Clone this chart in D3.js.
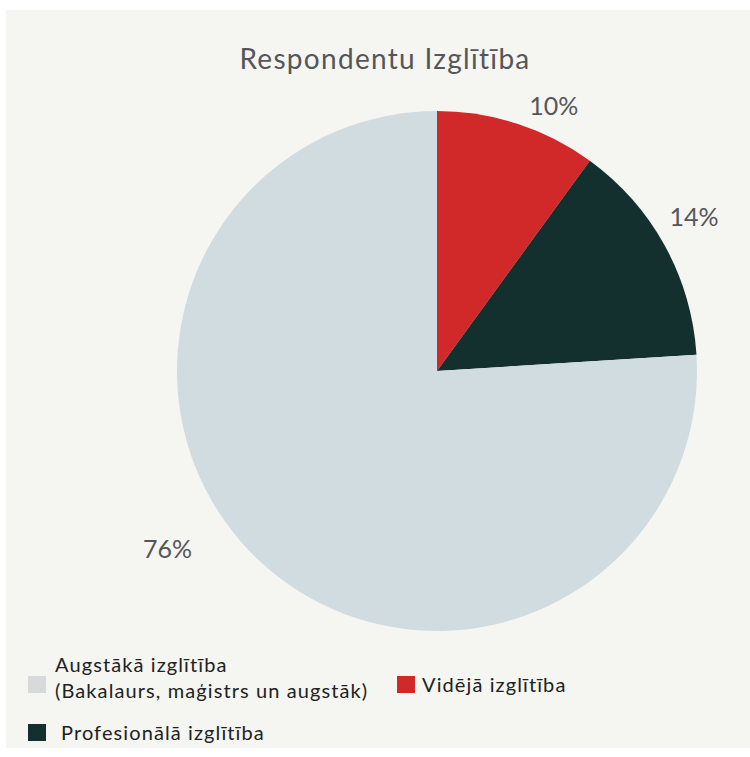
<!DOCTYPE html>
<html>
<head>
<meta charset="utf-8">
<script src="https://cdn.jsdelivr.net/npm/d3@7"></script>
<style>
  html, body { margin: 0; padding: 0; background: #ffffff; }
  svg { display: block; }
  text { font-family: "Lato", "Open Sans", sans-serif; }
</style>
</head>
<body>
<svg id="chart" width="750" height="757"></svg>
<script>
// Education level of respondents, shares in percent
const categories = ["Vidējā izglītība", "Profesionālā izglītība", "Augstākā izglītība"];
const values = [10, 14, 76];
const sliceColors = ["#d1282a", "#132f2e", "#d1dce1"];
const legendColors = ["#d1282a", "#132f2e", "#d8d9da"];
const legendLabels = [
  ["Augstākā izglītība", "(Bakalaurs, maģistrs un augstāk)"],
  ["Vidējā izglītība"],
  ["Profesionālā izglītība"]
];
const legendIndex = [2, 0, 1];
const title = "Respondentu Izglītība";

const svg = d3.select("#chart");

// panel background
svg.append("rect")
  .attr("x", 6).attr("y", 10)
  .attr("width", 744).attr("height", 738)
  .attr("fill", "#f5f5f1");

svg.append("text")
  .attr("x", 385).attr("y", 69)
  .attr("text-anchor", "middle")
  .attr("font-size", 28)
  .attr("letter-spacing", 1.3)
  .attr("fill", "#55565a")
  .text(title);

const cx = 437, cy = 371, r = 260;
const g = svg.append("g").attr("transform", `translate(${cx},${cy})`);

const pie = d3.pie().sort(null).value(d => d)(values);
const arc = d3.arc().innerRadius(0).outerRadius(r);

g.selectAll("path.slice")
  .data(pie)
  .join("path")
  .attr("class", "slice")
  .attr("d", arc)
  .attr("fill", (d, i) => sliceColors[i]);

// percentage labels outside the pie, nudged from the slice centroid
const labelArc = d3.arc().innerRadius(r + 40).outerRadius(r + 40);
const labelOffsets = [[24, 19], [-6, -10], [-64, -42]];
g.selectAll("text.pct")
  .data(pie)
  .join("text")
  .attr("class", "pct")
  .attr("transform", (d, i) => {
    const [x, y] = labelArc.centroid(d);
    return `translate(${x + labelOffsets[i][0]},${y + labelOffsets[i][1]})`;
  })
  .attr("text-anchor", "middle")
  .attr("dominant-baseline", "central")
  .attr("font-size", 25)
  .attr("fill", "#55565a")
  .text(d => d.data + "%");

// legend
const legendPos = [[28, 676], [397, 676], [28, 724]];
const lg = svg.append("g");
legendIndex.forEach((ci, k) => {
  const [lx, ly] = legendPos[k];
  lg.append("rect")
    .attr("x", lx).attr("y", ly)
    .attr("width", 18).attr("height", 17)
    .attr("fill", legendColors[ci]);
  const lines = legendLabels[k];
  const startY = lines.length > 1 ? ly - 4 : ly + 16;
  lines.forEach((t, j) => {
    lg.append("text")
      .attr("x", lx + (k === 2 ? 33 : (k === 1 ? 25 : 27)))
      .attr("y", startY + j * 26)
      .attr("font-size", 20)
      .attr("letter-spacing", 1.1)
      .attr("fill", "#222222")
      .text(t);
  });
});
</script>
</body>
</html>
